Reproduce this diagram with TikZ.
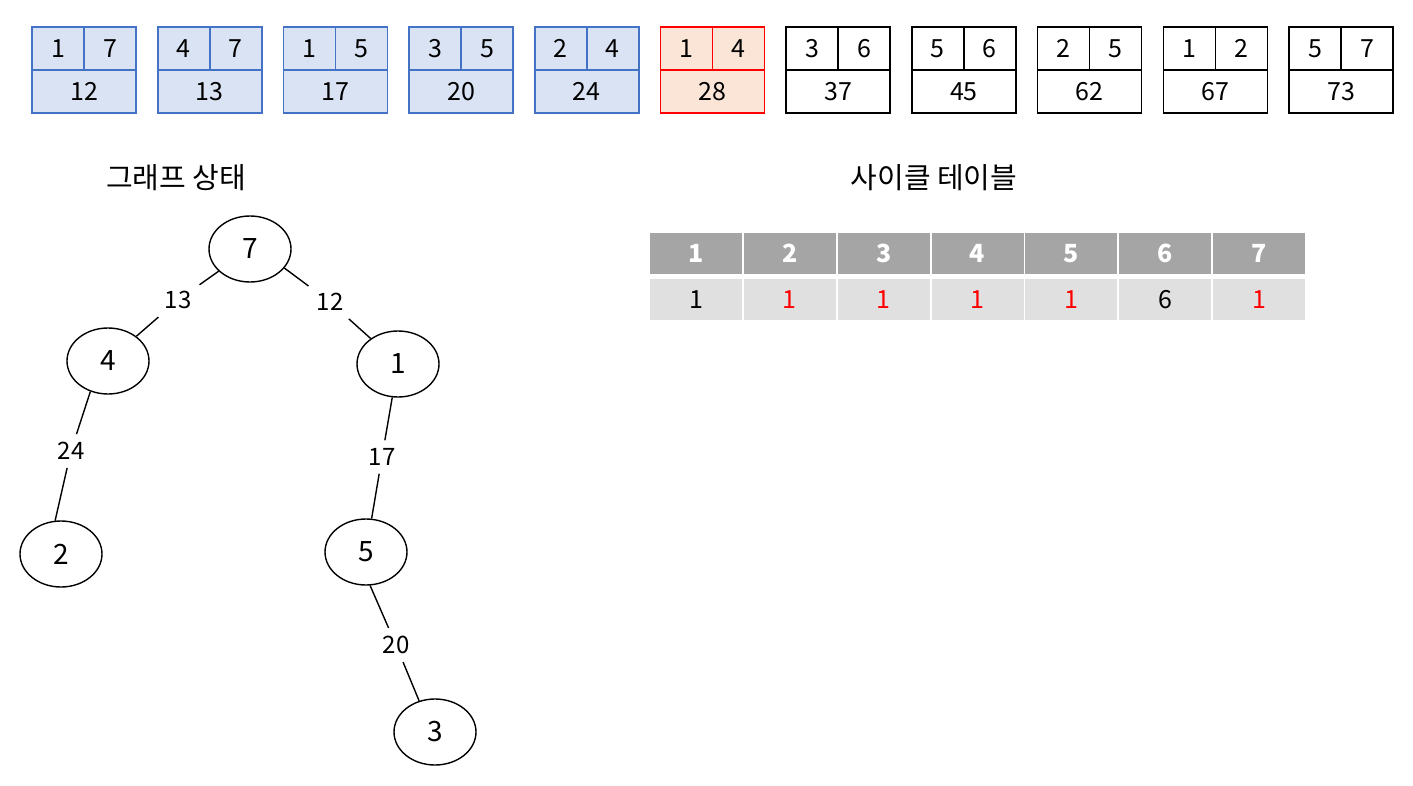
\documentclass[tikz,border=0pt]{standalone}
\usepackage{fontspec}
\setmainfont{Noto Sans CJK KR}
\usetikzlibrary{shapes.geometric}
\definecolor{doneblue}{HTML}{4472C4}
\definecolor{donefill}{HTML}{DAE3F3}
\definecolor{curred}{HTML}{FF0000}
\definecolor{curfill}{HTML}{FBE5D6}
\definecolor{headgray}{HTML}{A5A5A5}
\definecolor{cellgray}{HTML}{E0E0E0}
\tikzset{
  cell/.style={draw,line width=1.6pt,minimum height=43pt,inner sep=0pt,font=\fontsize{25}{29}\selectfont},
  vertex/.style={draw,ellipse,line width=1.4pt,minimum width=82pt,minimum height=66pt,inner sep=0pt,font=\fontsize{28}{32}\selectfont},
  weight/.style={inner sep=8pt,font=\fontsize{24}{28}\selectfont},
  edge/.style={line width=1.4pt},
  headcell/.style={fill=headgray,text=white,minimum width=92pt,minimum height=41pt,inner sep=0pt,font=\bfseries\fontsize{25}{29}\selectfont},
  datacell/.style={fill=cellgray,minimum width=92pt,minimum height=41pt,inner sep=0pt,font=\fontsize{25}{29}\selectfont},
  title/.style={font=\fontsize{29}{34}\selectfont}
}
\begin{document}
\begin{tikzpicture}[x=1pt,y=-1pt]
  \useasboundingbox (0,0) rectangle (1413,786);
  % edge list
  \foreach \i/\u/\v/\w/\bc/\fc in {0/1/7/12/doneblue/donefill,1/4/7/13/doneblue/donefill,
      2/1/5/17/doneblue/donefill,3/3/5/20/doneblue/donefill,4/2/4/24/doneblue/donefill,
      5/1/4/28/curred/curfill,6/3/6/37/black/white,7/5/6/45/black/white,
      8/2/5/62/black/white,9/1/2/67/black/white,10/5/7/73/black/white}{
    \pgfmathsetmacro\bx{32+125.7*\i}
    \node[cell,draw=\bc,fill=\fc,minimum width=52pt] (a\i) at (\bx+26,48.5) {\u};
    \node[cell,draw=\bc,fill=\fc,minimum width=52pt] (b\i) at (\bx+78,48.5) {\v};
    \node[cell,draw=\bc,fill=\fc,minimum width=104pt] (s\i) at (\bx+52,91.5) {\w};
  }
  % titles
  \node[title] (graphtitle) at (176,178) {그래프 상태};
  \node[title] (tabletitle) at (934,178) {사이클 테이블};
  % tree
  \node[vertex] (n7) at (250,249) {7};
  \node[vertex] (n4) at (108,361) {4};
  \node[vertex] (n1) at (398,364) {1};
  \node[vertex] (n2) at (61,554) {2};
  \node[vertex] (n5) at (366,552) {5};
  \node[vertex] (n3) at (435,732) {3};
  \node[weight] (w13) at (178,300) {13};
  \node[weight] (w12) at (330,302) {12};
  \node[weight] (w24) at (71,451) {24};
  \node[weight] (w17) at (382,457) {17};
  \node[weight] (w20) at (396,645) {20};
  \draw[edge] (n7) -- (w13) -- (n4);
  \draw[edge] (n7.-29) -- (w12) -- (n1.137);
  \draw[edge] (n4.240) -- (w24) -- (n2.100);
  \draw[edge] (n1) -- (w17) -- (n5);
  \draw[edge] (n5.277) -- (w20) -- (n3.117);
  % cycle table
  \foreach \c/\p/\tc in {1/1/black,2/1/red,3/1/red,4/1/red,5/1/red,6/6/black,7/1/red}{
    \node[headcell] (h\c) at (649+93.86*\c-46.93,253.5) {\c};
    \node[datacell,text=\tc] (d\c) at (649+93.86*\c-46.93,299.5) {\p};
  }
\end{tikzpicture}
\end{document}
